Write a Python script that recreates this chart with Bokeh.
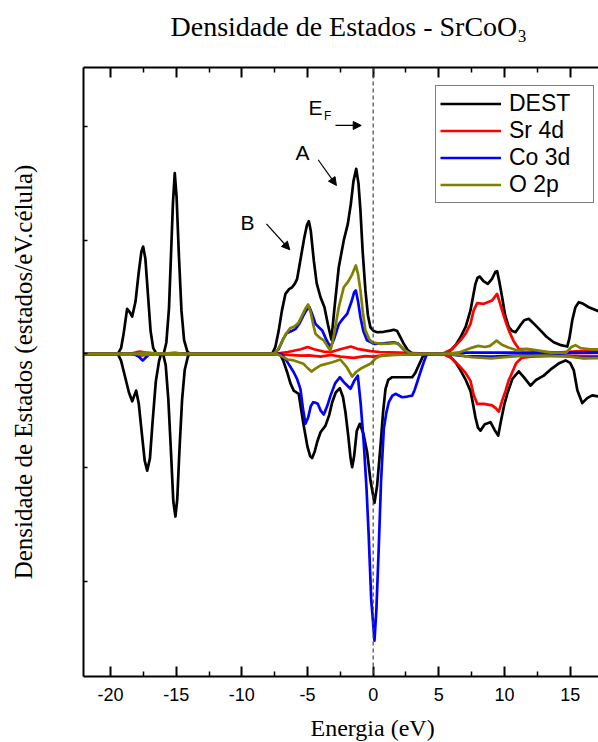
from bokeh.plotting import figure
from bokeh.models import (Range1d, LinearAxis, FixedTicker, Span, Label, Arrow, Title,
                          NormalHead, Legend, LegendItem, CustomJSTickFormatter)
from bokeh.embed import file_html
from bokeh.resources import INLINE

# ---------------- data ----------------
dest_up_E = [-22, -19.45, -19.2, -19.0, -18.74, -18.55, -18.35, -18.1, -17.85, -17.65, -17.52, -17.35, -17.15,
             -16.95, -16.75, -16.5, -15.95, -15.75, -15.55, -15.4, -15.25, -15.11, -14.97, -14.8, -14.6, -14.4,
             -14.15, -13.95, -7.7, -7.45, -7.2, -6.95, -6.68, -6.4, -6.17, -5.95, -5.79, -5.55, -5.25, -5.05,
             -4.90, -4.75, -4.52, -4.3, -4.01, -3.71, -3.45, -3.18, -2.95, -2.62, -2.24, -1.93, -1.7, -1.5,
             -1.29, -1.12, -0.97, -0.8, -0.59, -0.4, -0.21, 0.05, 0.3, 0.8, 1.3, 1.57, 1.83, 2.1, 2.33, 2.65,
             2.97, 3.2, 5.38, 5.9, 6.3, 6.65, 7.05, 7.41, 7.6, 7.79, 7.95, 8.12, 8.4, 8.73, 9.05, 9.3, 9.44,
             9.6, 9.82, 10.05, 10.33, 10.6, 10.84, 11.2, 11.5, 11.85, 12.2, 12.74, 13.2, 13.75, 14.3, 14.78,
             14.95, 15.16, 15.4, 15.66, 16.0, 16.42, 17.5]
dest_up_V = [0, 0, 0.25, 0.9, 1.98, 1.85, 1.64, 2.3, 3.6, 4.5, 4.72, 4.2, 2.6,
             1.0, 0.25, 0, 0, 0.5, 2.0, 4.3, 6.6, 7.95, 6.9, 4.4, 1.9, 0.6,
             0.1, 0, 0, 0.3, 1.0, 1.9, 2.64, 2.85, 2.93, 3.1, 3.3, 4.1, 5.1, 5.65,
             5.84, 5.4, 4.1, 3.1, 2.49, 2.05, 1.3, 0.62, 2.0, 3.81, 4.99, 5.72, 6.6, 7.6,
             8.14, 7.5, 6.31, 4.5, 2.79, 1.7, 1.17, 1.0, 0.95, 0.97, 1.02, 1.06, 1.0, 0.7, 0.44, 0.15,
             0.02, 0, 0, 0.15, 0.4, 0.73, 1.2, 1.91, 2.5, 3.08, 3.35, 3.40, 3.2, 3.08, 3.3, 3.6, 3.64,
             3.2, 2.49, 1.7, 1.17, 1.0, 0.95, 1.25, 1.48, 1.54, 1.35, 1.03, 0.75, 0.51, 0.38, 0.32,
             0.7, 1.47, 2.05, 2.27, 2.2, 2.05, 1.8]

dest_dn_E = [-22, -19.45, -19.2, -18.9, -18.6, -18.35, -18.2, -18.05, -17.85, -17.6, -17.4, -17.21, -17.0,
             -16.8, -16.55, -16.3, -16.15, -16.0, -15.8, -15.6, -15.4, -15.22, -15.06, -14.92, -14.75, -14.55,
             -14.35, -14.1, -13.95, -7.1, -6.85, -6.55, -6.3, -6.05, -5.85, -5.67, -5.5, -5.29, -5.0, -4.8,
             -4.65, -4.45, -4.27, -4.01, -3.63, -3.35, -3.12, -2.85, -2.54, -2.3, -2.11, -1.9, -1.72, -1.60,
             -1.45, -1.25, -1.02, -0.75, -0.46, -0.2, 0.10, 0.3, 0.56, 0.75, 0.94, 1.15, 1.45, 2.2, 2.97,
             3.2, 3.47, 3.75, 3.98, 5.38, 5.9, 6.3, 6.65, 7.05, 7.41, 7.6, 7.79, 7.98, 8.17, 8.5, 8.93, 9.25,
             9.52, 9.75, 10.0, 10.21, 10.6, 11.09, 11.5, 11.98, 12.4, 12.99, 13.6, 14.2, 14.65, 15.0, 15.28,
             15.55, 15.92, 16.3, 16.68, 17.5]
dest_dn_V = [0, 0, -0.3, -1.0, -1.7, -2.09, -1.85, -1.62, -2.2, -3.6, -4.7, -5.14, -4.6,
             -3.0, -1.2, -0.3, 0, 0, -0.5, -2.0, -4.3, -6.5, -7.16, -6.4, -4.2, -2.0,
             -0.7, -0.1, 0, 0, -0.3, -0.81, -1.3, -1.62, -1.7, -1.76, -2.4, -3.16, -4.1, -4.5,
             -4.59, -4.3, -3.89, -3.45, -3.16, -2.7, -2.13, -1.7, -1.51, -1.9, -2.57, -3.6, -4.6, -4.99,
             -4.5, -3.4, -3.08, -3.5, -4.33, -5.6, -6.56, -5.8, -4.04, -2.6, -1.54, -1.15, -1.03, -1.03, -1.03,
             -0.85, -0.51, -0.15, 0, 0, -0.15, -0.4, -0.73, -1.15, -1.63, -2.2, -2.80, -3.25, -3.38, -3.1, -3.01, -3.35,
             -3.60, -2.9, -2.2, -1.76, -1.1, -0.77, -1.05, -1.40, -1.15, -0.96, -0.65, -0.4, -0.29, -0.4, -0.73,
             -1.6, -2.17, -1.95, -1.83, -1.9]

sr_up_E = [-22, -18.5, -17.8, -17.3, -16.5, -7.5, -6.5, -5.5, -5.0, -4.5, -3.8, -3.2, -2.5, -1.7, -1.2,
           -0.2, 0.5, 2.0, 3.5, 5.3, 6.0, 6.65, 7.05, 7.41, 7.65, 7.92, 8.43, 9.06, 9.44, 9.62, 9.82, 10.1,
           10.33, 10.7, 11.09, 11.8, 12.5, 14.0, 15.2, 16.0, 17.5]
sr_up_V = [0, 0, 0.1, 0.05, 0, 0, 0.08, 0.2, 0.3, 0.2, 0.1, 0.08, 0.2, 0.32, 0.22,
           0.12, 0.08, 0.05, 0.02, 0, 0.2, 0.59, 0.9, 1.32, 1.9, 2.23, 2.2, 2.35, 2.64, 2.3, 1.91, 1.4,
           1.03, 0.55, 0.22, 0.2, 0.1, 0.05, 0.1, 0.12, 0.12]
sr_dn_E = [-22, -18.5, -17.8, -17.3, -16.5, -7.5, -6.5, -5.5, -4.9, -4.0, -3.2, -2.5, -1.5, -0.6, 0.0,
           1.0, 3.5, 5.3, 6.0, 6.65, 7.05, 7.41, 7.65, 7.92, 8.43, 9.06, 9.35, 9.57, 9.8, 10.08, 10.3,
           10.59, 10.9, 11.3, 12.0, 14.0, 17.5]
sr_dn_V = [0, 0, -0.08, -0.05, 0, 0, -0.05, -0.08, -0.07, -0.12, -0.05, -0.12, -0.18, -0.1, -0.12,
           -0.05, -0.02, 0, -0.2, -0.59, -0.85, -1.19, -1.8, -2.2, -2.2, -2.27, -2.4, -2.54, -2.1, -1.63, -1.2,
           -0.81, -0.4, -0.18, -0.12, -0.08, -0.1]

co_up_E = [-22, -7.6, -7.2, -6.9, -6.6, -6.22, -5.9, -5.6, -5.3, -5.05, -4.85, -4.65, -4.39, -4.1, -3.88,
           -3.55, -3.25, -2.95, -2.62, -2.3, -1.98, -1.65, -1.45, -1.32, -1.15, -0.97, -0.75, -0.46, 0.05,
           0.8, 1.57, 1.9, 2.3, 2.75, 5.5, 7.0, 17.5]
co_up_V = [0, 0, 0.2, 0.6, 0.9, 1.0, 1.1, 1.35, 1.7, 1.95, 2.05, 1.75, 1.32, 1.15, 1.03,
           0.6, 0.29, 0.7, 1.3, 1.55, 1.76, 2.3, 2.7, 2.79, 2.3, 1.61, 1.0, 0.59, 0.44,
           0.46, 0.51, 0.45, 0.2, 0, 0, 0.05, 0.05]
co_dn_E = [-22, -18.2, -17.8, -17.55, -17.3, -17.0, -7.0, -6.6, -6.05, -5.8, -5.54, -5.35, -5.16, -4.95,
           -4.75, -4.57, -4.4, -4.22, -4.0, -3.76, -3.5, -3.25, -2.9, -2.54, -2.3, -2.11, -1.73, -1.45,
           -1.17, -0.95, -0.72, -0.5, -0.34, -0.15, 0.10, 0.25, 0.43, 0.6, 0.81, 1.0, 1.19, 1.45, 1.70,
           2.2, 2.6, 2.97, 3.15, 3.35, 3.6, 3.85, 4.1, 5.5, 7.0, 9.0, 11.0, 13.5, 15.0, 16.0, 17.5]
co_dn_V = [0, 0, -0.15, -0.3, -0.15, 0, 0, -0.3, -0.81, -1.1, -1.54, -2.4, -3.08, -2.8,
           -2.3, -2.13, -2.15, -2.2, -2.5, -2.67, -2.3, -1.84, -1.3, -1.03, -1.2, -1.32, -1.54, -1.2,
           -0.96, -2.2, -3.89, -6.0, -8.0, -10.8, -12.62, -11.2, -8.44, -5.6, -3.30, -2.6, -2.13, -1.85, -1.76,
           -1.91, -1.88, -1.84, -1.6, -1.25, -0.8, -0.37, 0, 0, -0.1, -0.12, -0.08, -0.05, -0.1, -0.18, -0.15]

o_up_E = [-22, -18.0, -17.5, -16.0, -15.1, -14.5, -7.6, -7.3, -7.0, -6.68, -6.3, -6.0, -5.7, -5.4, -5.15,
          -4.95, -4.75, -4.55, -4.39, -4.05, -3.76, -3.5, -3.25, -3.0, -2.62, -2.24, -1.88, -1.6, -1.32,
          -1.15, -0.97, -0.78, -0.59, -0.3, -0.08, 0.56, 1.2, 1.7, 2.0, 2.33, 2.8, 3.5, 5.5, 6.5, 7.4, 8.0,
          8.5, 8.9, 9.4, 9.8, 10.3, 11.0, 11.7, 12.5, 13.5, 14.7, 15.1, 15.4, 15.8, 16.5, 17.5]
o_up_V = [0, 0, 0.05, 0, 0.05, 0, 0, 0.15, 0.45, 0.85, 1.14, 1.2, 1.35, 1.7, 2.0,
          2.17, 1.8, 1.25, 0.88, 0.7, 0.59, 0.35, 0.15, 0.8, 2.05, 2.93, 3.2, 3.5, 3.89,
          3.5, 2.79, 1.8, 1.03, 0.65, 0.51, 0.44, 0.45, 0.48, 0.4, 0.2, 0.02, 0, 0, 0.05, 0.25, 0.35,
          0.3, 0.35, 0.58, 0.4, 0.28, 0.15, 0.22, 0.15, 0.05, 0.05, 0.3, 0.38, 0.25, 0.2, 0.2]
o_dn_E = [-22, -18.0, -17.5, -16.5, -7.4, -7.0, -6.5, -6.05, -5.3, -4.95, -4.7, -4.4, -4.0, -3.1, -2.5,
          -2.0, -1.6, -1.3, -0.97, -0.6, -0.21, 0.2, 0.56, 1.5, 3.0, 4.0, 5.5, 6.5, 7.5, 9.0, 10.0, 11.0,
          13.0, 15.0, 16.0, 17.5]
o_dn_V = [0, 0, -0.05, 0, 0, -0.1, -0.25, -0.29, -0.44, -0.65, -0.78, -0.65, -0.51, -0.37, -0.25,
          -0.6, -1.0, -0.8, -0.66, -0.55, -0.44, -0.2, -0.1, -0.05, -0.03, 0, 0, -0.05, -0.15, -0.2, -0.15, -0.1,
          -0.08, -0.12, -0.2, -0.18]

series_names = ["DEST", "Sr 4d", "Co 3d", "O 2p"]
series_colors = ["#000000", "#ff0000", "#0000ff", "#808000"]

x_ticks = [-20, -15, -10, -5, 0, 5, 10, 15]
x_minor = [-22.5, -17.5, -12.5, -7.5, -2.5, 2.5, 7.5, 12.5, 17.5]
y_ticks = [-10, -5, 0, 5, 10]

# ---------------- figure ----------------
p = figure(width=598, height=742, output_backend="svg", toolbar_location=None,
           x_range=Range1d(-22.06, 17.16), y_range=Range1d(-14.2, 12.6),
           min_border_left=83, min_border_right=0, min_border_top=67, min_border_bottom=66,
           x_axis_location=None, y_axis_location=None)
p.xgrid.visible = False
p.ygrid.visible = False
p.outline_line_color = None
p.background_fill_color = "white"
p.border_fill_color = "white"

blank = CustomJSTickFormatter(code="return ''")
plain = CustomJSTickFormatter(code="return tick.toString()")

xb = LinearAxis(ticker=FixedTicker(ticks=x_ticks, minor_ticks=x_minor), formatter=plain)
xt = LinearAxis(ticker=FixedTicker(ticks=x_ticks, minor_ticks=x_minor), formatter=blank)
yl = LinearAxis(ticker=FixedTicker(ticks=y_ticks), formatter=blank,
                axis_label="Densidade de Estados (estados/eV.célula)")
for ax in (xb, xt, yl):
    ax.axis_line_width = 2
    ax.axis_line_color = "black"
    ax.major_tick_out = 0
    ax.minor_tick_out = 0
    ax.major_tick_line_width = 2
    ax.minor_tick_line_width = 1.5
    ax.major_tick_line_color = "black"
    ax.minor_tick_line_color = "black"
xb.major_tick_in = 10
xb.minor_tick_in = 5
xt.major_tick_in = 10
xt.minor_tick_in = 5
xt.major_label_standoff = 0
yl.major_tick_in = 4
yl.minor_tick_in = 0
yl.major_tick_line_width = 1.5
xb.major_label_text_font = "Liberation Sans"
xb.major_label_text_font_size = "18px"
xb.major_label_text_color = "black"
xb.major_label_standoff = 11
yl.major_label_standoff = 0
yl.axis_label_text_font = "Liberation Serif"
yl.axis_label_text_font_size = "25px"
yl.axis_label_text_font_style = "normal"
yl.axis_label_text_color = "black"
yl.axis_label_standoff = 47


def spacer(size):
    # invisible axis used only to leave room between the frame and a title
    ax = LinearAxis(ticker=FixedTicker(ticks=[0]), formatter=blank)
    ax.axis_line_color = None
    ax.major_tick_line_color = None
    ax.minor_tick_line_color = None
    ax.major_tick_in = 0
    ax.major_tick_out = size
    ax.minor_tick_out = 0
    ax.major_label_standoff = 0
    return ax


p.add_layout(xb, "below")
p.add_layout(spacer(9), "below")
p.add_layout(xt, "above")
p.add_layout(spacer(26), "above")
p.add_layout(yl, "left")

# title and x label as titles (kept outside the frame)
p.add_layout(Title(text="Densidade de Estados - SrCoO\u2083", align="left", offset=87,
                   text_font="Liberation Serif", text_font_size="28px", text_font_style="normal",
                   text_color="black", standoff=0), "above")
p.add_layout(Title(text="Energia (eV)", align="left", offset=227,
                   text_font="Liberation Serif", text_font_size="24px", text_font_style="normal",
                   text_color="black", standoff=0), "below")

p.add_layout(Span(location=0, dimension="height", line_color="#444444",
                  line_dash="4 3", line_width=1.2))

ups = [(dest_up_E, dest_up_V), (sr_up_E, sr_up_V), (co_up_E, co_up_V), (o_up_E, o_up_V)]
dns = [(dest_dn_E, dest_dn_V), (sr_dn_E, sr_dn_V), (co_dn_E, co_dn_V), (o_dn_E, o_dn_V)]
items = []
for (ue, uv), (de, dv), name, col in zip(ups, dns, series_names, series_colors):
    r1 = p.line(ue, uv, line_color=col, line_width=2.7, line_join="round")
    r2 = p.line(de, dv, line_color=col, line_width=2.7, line_join="round")
    items.append(LegendItem(label=name, renderers=[r1]))

legend = Legend(items=items, location=(352, 473), padding=4, spacing=0,
                label_height=27, glyph_height=27, glyph_width=61, label_standoff=8,
                label_width=80, label_text_font="Liberation Sans", label_text_font_size="23px",
                label_text_color="black", border_line_color="black", border_line_width=1,
                background_fill_color="white", background_fill_alpha=1.0, margin=0)
p.add_layout(legend)

# annotations
def lab(x, y, t, size):
    p.add_layout(Label(x=x, y=y, text=t, text_font="Liberation Sans", text_font_size=size,
                       text_color="black", text_align="left", text_baseline="alphabetic"))

lab(-4.93, 10.85, "E", "21px")
lab(-3.75, 10.45, "F", "12px")
lab(-5.92, 8.87, "A", "21px")
lab(-10.11, 5.77, "B", "21px")

for xs, ys, xe, ye in [(-2.87, 10.05, -0.91, 10.05), (-4.19, 8.54, -2.80, 7.41), (-8.13, 5.72, -6.35, 4.58)]:
    p.add_layout(Arrow(end=NormalHead(size=8, fill_color="black", line_color="black", line_width=1),
                       x_start=xs, y_start=ys, x_end=xe, y_end=ye,
                       line_color="black", line_width=1.2))

open("out.html", "w").write(file_html(p, INLINE))
